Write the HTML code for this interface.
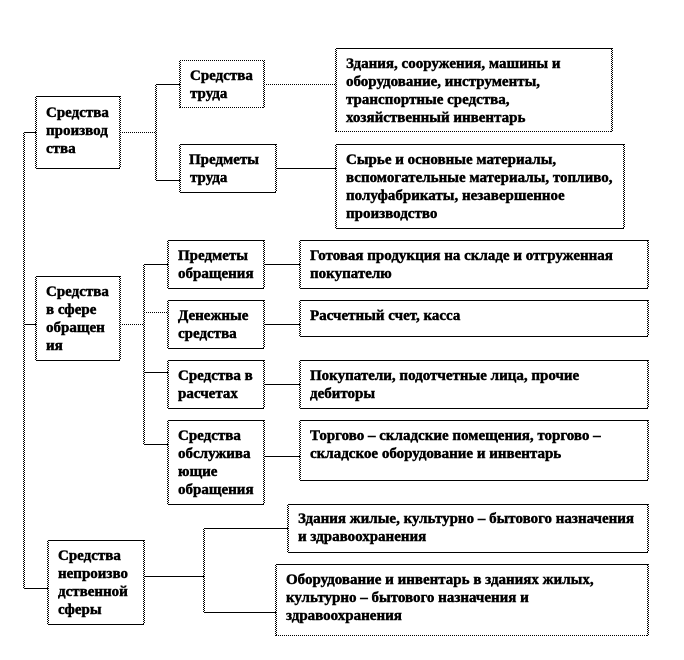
<!DOCTYPE html>
<html lang="ru">
<head>
<meta charset="utf-8">
<title>Схема</title>
<style>
html,body{margin:0;padding:0;background:#fff;width:684px;height:660px;overflow:hidden}
svg{display:block}
.s,.d,.v{fill:none;shape-rendering:crispEdges}
.s{stroke:#000;stroke-width:1}
.d{stroke:#000;stroke-width:1;stroke-dasharray:1 1}
.v{stroke:url(#chk);stroke-width:2}
text{font-family:"Liberation Serif",serif;font-size:15px;font-weight:bold;fill:#000;stroke:#000;stroke-width:.45px}
</style>
</head>
<body>
<svg xmlns="http://www.w3.org/2000/svg" width="684" height="660" viewBox="0 0 684 660">
<defs>
<pattern id="chk" patternUnits="userSpaceOnUse" width="2" height="2">
<rect x="0" y="0" width="1" height="1" fill="#000" shape-rendering="crispEdges"/>
<rect x="1" y="1" width="1" height="1" fill="#000" shape-rendering="crispEdges"/>
</pattern>
</defs>
<path class="s" d="M36 96.5H120M36 168.5H120M180 144.5H276M180 192.5H276M336 48.5H612M336 144.5H624M336 228.5H624
M36 276.5H120M36 360.5H120
M168 240.5H264M168 288.5H264M168 300.5H264M168 348.5H264M168 360.5H264M168 408.5H264M168 420.5H264M168 504.5H264
M300 240.5H648M300 288.5H648M300 300.5H648M300 336.5H648M300 360.5H648M300 408.5H648M300 420.5H648M300 480.5H648
M48 540.5H144M48 624.5H144M288 504.5H648M288 552.5H648M276 564.5H648
M156 84.5H180M156 180.5H180M276 168.5H336M24 132.5H36M24 324.5H36M24 588.5H48
M144 264.5H168M144 372.5H168M144 444.5H168M264 264.5H300M264 324.5H300M264 384.5H300M264 456.5H300
M144 576.5H204M204 528.5H288M204 612.5H276"/>
<path class="d" d="M180 60.5H264M180 107.5H264M336 131.5H612M276 635.5H648M120 132.5H156M264 84.5H336M120 324.5H144M144 312.5H168"/>
<path class="v" d="M24 132V588M156 84V180M144 264V444M204 528V612
M36 96V168M120 96V168M180 60V108M264 60V108M180 144V192M276 144V192M336 48V132M612 48V132M336 144V228M624 144V228
M36 276V360M120 276V360
M168 240V288M264 240V288M168 300V348M264 300V348M168 360V408M264 360V408M168 420V504M264 420V504
M300 240V288M648 240V288M300 300V336M648 300V336M300 360V408M648 360V408M300 420V480M648 420V480
M48 540V624M144 540V624M288 504V552M648 504V552M276 564V636M648 564V636"/>

<text x="46" y="117">Средства</text>
<text x="46" y="135">производ</text>
<text x="46" y="153">ства</text>

<text x="190" y="80">Средства</text>
<text x="190" y="98">труда</text>
<text x="189" y="164">Предметы</text>
<text x="190" y="182">труда</text>

<text x="346" y="68">Здания, сооружения, машины и</text>
<text x="346" y="86">оборудование, инструменты,</text>
<text x="346" y="104">транспортные средства,</text>
<text x="346" y="122">хозяйственный инвентарь</text>

<text x="346" y="164">Сырье и основные материалы,</text>
<text x="346" y="182">вспомогательные материалы, топливо,</text>
<text x="346" y="200">полуфабрикаты, незавершенное</text>
<text x="346" y="218">производство</text>

<text x="46" y="296">Средства</text>
<text x="46" y="314">в сфере</text>
<text x="46" y="332">обращен</text>
<text x="46" y="350">ия</text>

<text x="178" y="260">Предметы</text>
<text x="178" y="278">обращения</text>
<text x="178" y="320">Денежные</text>
<text x="178" y="338">средства</text>
<text x="178" y="380">Средства в</text>
<text x="178" y="398">расчетах</text>
<text x="178" y="440">Средства</text>
<text x="178" y="458">обслужива</text>
<text x="178" y="476">ющие</text>
<text x="178" y="494">обращения</text>

<text x="310" y="260">Готовая продукция на складе и отгруженная</text>
<text x="310" y="278">покупателю</text>
<text x="310" y="320">Расчетный счет, касса</text>
<text x="310" y="380">Покупатели, подотчетные лица, прочие</text>
<text x="310" y="398">дебиторы</text>
<text x="310" y="440">Торгово – складские помещения, торгово –</text>
<text x="310" y="458">складское оборудование и инвентарь</text>

<text x="58" y="560">Средства</text>
<text x="58" y="578">непроизво</text>
<text x="58" y="596">дственной</text>
<text x="58" y="614">сферы</text>

<text x="298" y="523">Здания жилые, культурно – бытового назначения</text>
<text x="298" y="541">и здравоохранения</text>
<text x="286" y="584">Оборудование и инвентарь в зданиях жилых,</text>
<text x="286" y="602">культурно – бытового назначения и</text>
<text x="286" y="620">здравоохранения</text>
</svg>
</body>
</html>
